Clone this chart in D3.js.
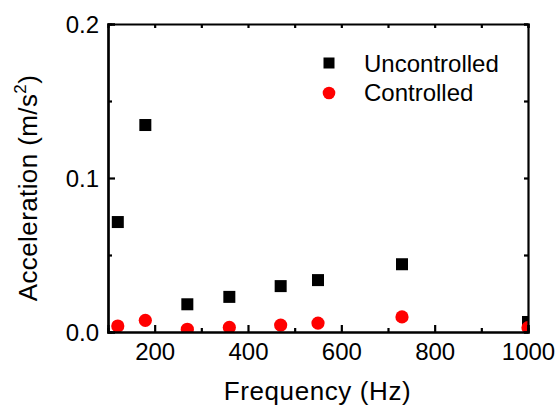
<!DOCTYPE html>
<html><head><meta charset="utf-8">
<script src="https://cdn.jsdelivr.net/npm/d3@7"></script>
<style>body{margin:0;background:#fff}text{font-family:"Liberation Sans",Arial,sans-serif}</style>
</head><body><svg id="c" width="558" height="407"></svg>
<script>
const frequency = [121, 180, 270, 360, 470, 550, 730, 1000];
const uncontrolled = [0.0714, 0.1344, 0.018, 0.0228, 0.0298, 0.0337, 0.0440, 0.0065];
const controlled = [0.0039, 0.0076, 0.0018, 0.0030, 0.0045, 0.0058, 0.0098, 0.0028];
const xTicks = [200, 400, 600, 800, 1000];
const xMinor = [300, 500, 700, 900];
const yTicks = [0.0, 0.1, 0.2];
const yMinor = [0.05, 0.15];
const seriesNames = ["Uncontrolled", "Controlled"];

const svg = d3.select("#c");
const L = 108, R = 528, T = 24, B = 332;
const x = d3.scaleLinear().domain([100, 1000]).range([L, R]);
const y = d3.scaleLinear().domain([0, 0.2]).range([B, T]);

svg.append("clipPath").attr("id", "clip").append("rect")
  .attr("x", L).attr("y", T).attr("width", R - L).attr("height", B - T);

const g = svg.append("g").attr("clip-path", "url(#clip)");
g.selectAll("rect.u").data(frequency).enter().append("rect")
  .attr("x", (d) => x(d) - 6).attr("y", (d, i) => y(uncontrolled[i]) - 6)
  .attr("width", 12).attr("height", 12).attr("fill", "#000");
g.selectAll("circle.c").data(frequency).enter().append("circle")
  .attr("cx", (d) => x(d)).attr("cy", (d, i) => y(controlled[i]))
  .attr("r", 6.6).attr("fill", "#ff0000");

// axes
const ax = svg.append("g");
const axBottom = ax.append("g").attr("transform", `translate(0,${B})`)
  .call(d3.axisBottom(x).tickValues(xTicks).tickSize(-7).tickPadding(11).tickFormat(d3.format("d")));
ax.append("g").attr("transform", `translate(0,${B})`)
  .call(d3.axisBottom(x).tickValues(xMinor).tickSize(-4).tickFormat(""));
ax.append("g").attr("transform", `translate(0,${T})`)
  .call(d3.axisTop(x).tickValues(xTicks.concat(xMinor)).tickSize(-4).tickFormat(""));
const axLeft = ax.append("g").attr("transform", `translate(${L},0)`)
  .call(d3.axisLeft(y).tickValues(yTicks).tickSize(-7).tickPadding(9).tickFormat(d3.format(".1f")));
ax.append("g").attr("transform", `translate(${L},0)`)
  .call(d3.axisLeft(y).tickValues(yMinor).tickSize(-4).tickFormat(""));
ax.append("g").attr("transform", `translate(${R},0)`)
  .call(d3.axisRight(y).tickValues(yTicks.concat(yMinor)).tickSize(-4).tickFormat(""));

ax.selectAll(".domain").attr("stroke", "#000").attr("stroke-width", 2.2);
ax.selectAll(".tick line").attr("stroke", "#000").attr("stroke-width", 2.2);
ax.selectAll(".tick text").attr("font-size", 24).attr("fill", "#000")
  .attr("font-family", "Liberation Sans, Arial, sans-serif");
axBottom.selectAll(".tick text").attr("dy", "0.71em");
axLeft.selectAll(".tick text").attr("dy", "0.36em");

// axis titles
svg.append("text").attr("x", (L + R) / 2 - 0.5).attr("y", 400)
  .attr("text-anchor", "middle").attr("font-size", 26).attr("letter-spacing", 0.6).text("Frequency (Hz)");
const yl = svg.append("text").attr("transform", "translate(37,188) rotate(-90)")
  .attr("text-anchor", "middle").attr("font-size", 26).attr("letter-spacing", 0.4);
yl.append("tspan").text("Acceleration (m/s");
yl.append("tspan").attr("font-size", 17).attr("dy", -11).text("2");
yl.append("tspan").attr("dy", 11).text(")");

// legend
const lg = svg.append("g");
lg.append("rect").attr("x", 329 - 5.5).attr("y", 63 - 5.5).attr("width", 11).attr("height", 11).attr("fill", "#000");
lg.append("circle").attr("cx", 329).attr("cy", 93).attr("r", 6.3).attr("fill", "#ff0000");
lg.selectAll("text.l").data(seriesNames).enter().append("text")
  .attr("x", 364).attr("y", (d, i) => 72 + i * 29).attr("font-size", 24).text((d) => d);
</script></body></html>
